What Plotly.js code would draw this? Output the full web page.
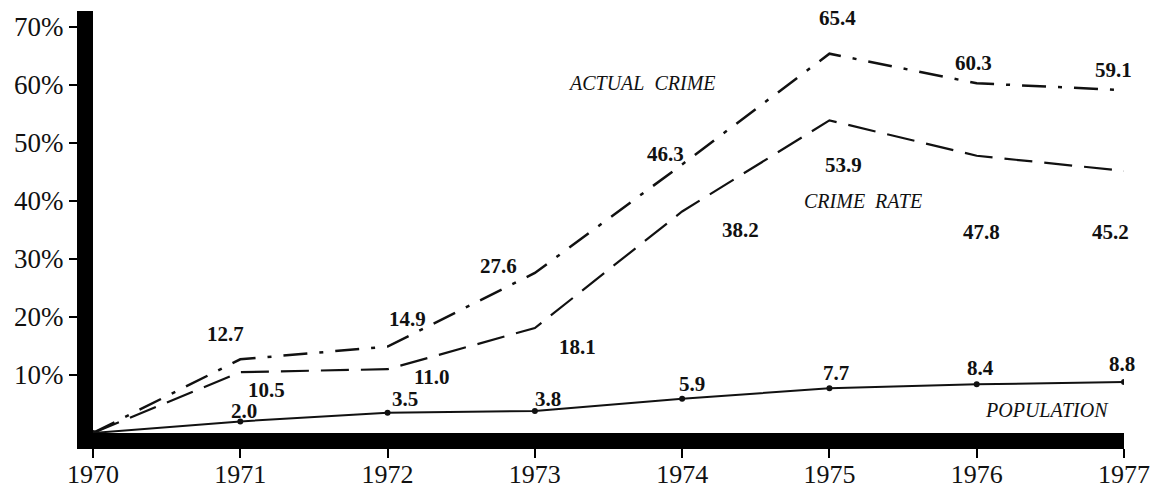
<!DOCTYPE html>
<html>
<head>
<meta charset="utf-8">
<script src="https://cdn.plot.ly/plotly-3.0.1.min.js"></script>
<style>html,body{margin:0;padding:0;background:#fff;}#chart{width:1159px;height:490px;}</style>
</head>
<body>
<div id="chart"></div>
<script>
// ---- data ----
var years = [1970, 1971, 1972, 1973, 1974, 1975, 1976, 1977];
var actualCrime = [0, 12.7, 14.9, 27.6, 46.3, 65.4, 60.3, 59.1];
var crimeRate   = [0, 10.5, 11.0, 18.1, 38.2, 53.9, 47.8, 45.2];
var population  = [0, 2.0, 3.5, 3.8, 5.9, 7.7, 8.4, 8.8];
var yTickVals   = [10, 20, 30, 40, 50, 60, 70];
var yTickText   = ['10%', '20%', '30%', '40%', '50%', '60%', '70%'];
var xTickText   = ['1970', '1971', '1972', '1973', '1974', '1975', '1976', '1977'];

// label offsets (pixels) for value labels, index by year (1970 has none)
var acShift = [null, [-15, 25], [20, 28], [-36, 7], [-17, 10], [8, 36], [-3, 20], [-11, 20]];
var crShift = [null, [26, -18], [44, -8], [43, -19], [58, -19], [14, -45], [5, -76], [-14, -61]];
var popShift = [null, [4, 10], [17, 14], [13, 12], [10, 15], [7, 15], [4, 16], [-2, 18]];

var serif = 'Liberation Serif, Times New Roman, serif';

var traces = [
  {x: years, y: actualCrime, mode: 'lines', line: {color: '#111', width: 2.5, dash: '24px,12px,4px,12px'}, hoverinfo: 'skip'},
  {x: years, y: crimeRate, mode: 'lines', line: {color: '#111', width: 2.2, dash: '28px,12px'}, hoverinfo: 'skip'},
  {x: years, y: population, mode: 'lines+markers', line: {color: '#111', width: 2}, marker: {color: '#111', size: 6}, hoverinfo: 'skip'}
];

var annotations = [];
function addLabels(vals, shifts) {
  for (var i = 1; i < years.length; i++) {
    annotations.push({
      x: years[i], y: vals[i], xref: 'x', yref: 'y', showarrow: false,
      text: vals[i].toFixed(1), xshift: shifts[i][0], yshift: shifts[i][1],
      font: {family: serif, size: 21, color: '#111', weight: 'bold'}
    });
  }
}
addLabels(actualCrime, acShift);
addLabels(crimeRate, crShift);
addLabels(population, popShift);

var seriesFont = {family: serif, size: 20, color: '#111', style: 'italic'};
annotations.push({x: 1973.73, y: 60.3, xref: 'x', yref: 'y', showarrow: false, text: 'ACTUAL&nbsp;&nbsp;CRIME', font: seriesFont});
annotations.push({x: 1975.23, y: 40.0, xref: 'x', yref: 'y', showarrow: false, text: 'CRIME&nbsp;&nbsp;RATE', font: seriesFont});
annotations.push({x: 1976.48, y: 4.0, xref: 'x', yref: 'y', showarrow: false, text: 'POPULATION', font: seriesFont});

var layout = {
  width: 1159, height: 490,
  margin: {l: 93, r: 35, t: 11, b: 57, pad: 0},
  paper_bgcolor: '#fff', plot_bgcolor: '#fff',
  showlegend: false,
  xaxis: {
    range: [1970, 1977], tickvals: years, ticktext: xTickText,
    showgrid: false, zeroline: false, showline: true, linecolor: '#000', linewidth: 16,
    ticks: 'outside', ticklen: 9, tickwidth: 2, tickcolor: '#000',
    ticklabelstandoff: -6,
    tickfont: {family: serif, size: 26, color: '#111'}
  },
  yaxis: {
    range: [0, 72.76], tickvals: yTickVals, ticktext: yTickText,
    showgrid: false, zeroline: false, showline: true, linecolor: '#000', linewidth: 16,
    ticks: 'outside', ticklen: 8, tickwidth: 2, tickcolor: '#000',
    tickfont: {family: serif, size: 27, color: '#111'}
  },
  annotations: annotations
};

Plotly.newPlot('chart', traces, layout, {displayModeBar: false, staticPlot: true});
</script>
</body>
</html>
